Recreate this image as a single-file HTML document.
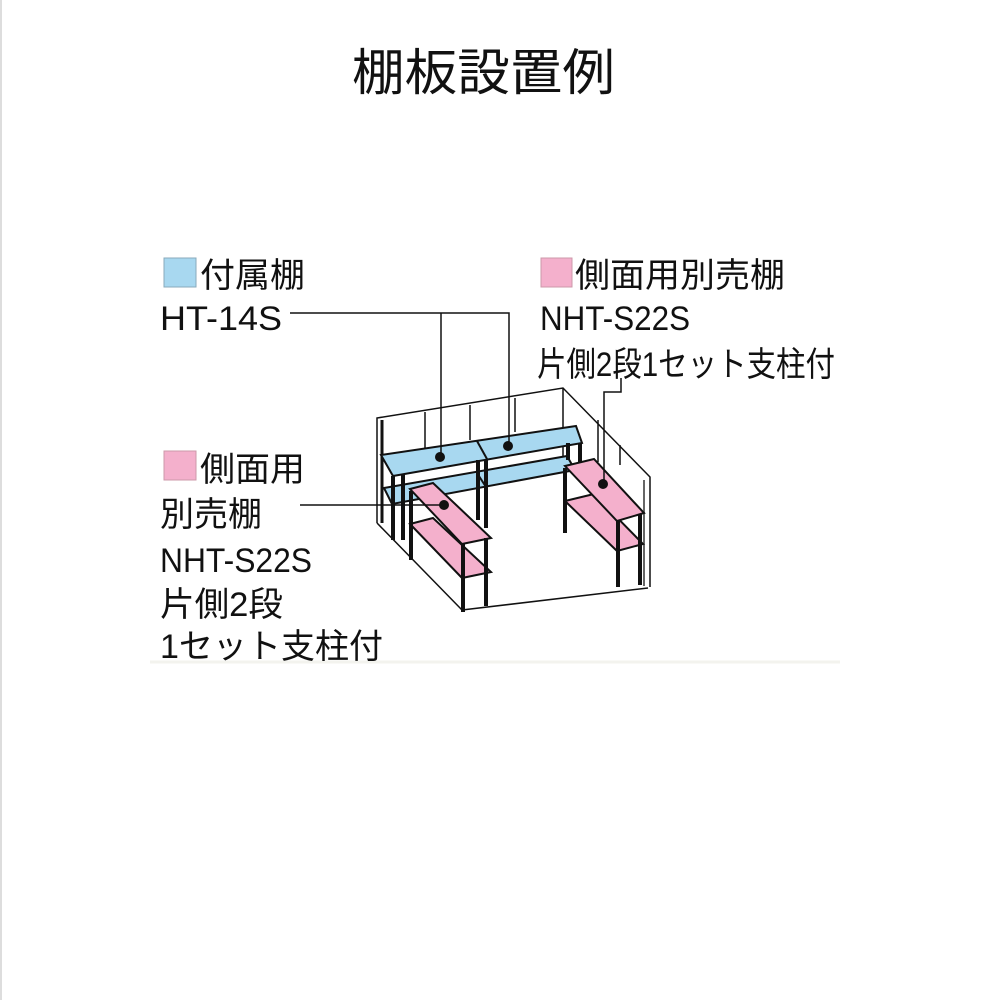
<!DOCTYPE html>
<html><head><meta charset="utf-8"><style>
html,body{margin:0;padding:0;background:#fff}
svg{display:block}
text{font-family:"Liberation Sans","Noto Sans CJK JP",sans-serif;fill:#111}
</style></head><body>
<svg width="1000" height="1000" viewBox="0 0 1000 1000" xmlns="http://www.w3.org/2000/svg">
<rect x="0" y="0" width="2" height="1000" fill="#ddd"/>
<text x="352" y="90" font-size="50" textLength="263" lengthAdjust="spacingAndGlyphs">棚板設置例</text>
<line x1="150" y1="662" x2="840" y2="662" stroke="#f3f3ee" stroke-width="3"/>

<rect x="164" y="258" width="32" height="29" fill="#a8d8f0" stroke="#8ab" stroke-width="1"/>
<text x="200" y="287" font-size="34" textLength="105" lengthAdjust="spacingAndGlyphs">付属棚</text>
<text x="160" y="330" font-size="34" textLength="122" lengthAdjust="spacingAndGlyphs">HT-14S</text>

<rect x="541" y="258" width="31" height="29" fill="#f4b0cc" stroke="#c9a" stroke-width="1"/>
<text x="575" y="287" font-size="34" textLength="210" lengthAdjust="spacingAndGlyphs">側面用別売棚</text>
<text x="540" y="330" font-size="34" textLength="150" lengthAdjust="spacingAndGlyphs">NHT-S22S</text>
<text x="537" y="376" font-size="34" textLength="298" lengthAdjust="spacingAndGlyphs">片側2段1セット支柱付</text>

<rect x="164" y="451" width="32" height="29" fill="#f4b0cc" stroke="#c9a" stroke-width="1"/>
<text x="200" y="481" font-size="34" textLength="105" lengthAdjust="spacingAndGlyphs">側面用</text>
<text x="160" y="526" font-size="34" textLength="102" lengthAdjust="spacingAndGlyphs">別売棚</text>
<text x="160" y="572" font-size="34" textLength="152" lengthAdjust="spacingAndGlyphs">NHT-S22S</text>
<text x="160" y="616" font-size="34" textLength="123" lengthAdjust="spacingAndGlyphs">片側2段</text>
<text x="160" y="658" font-size="34" textLength="223" lengthAdjust="spacingAndGlyphs">1セット支柱付</text>

<g stroke="#111" fill="none" stroke-width="1.5">
<polyline points="377,523 377,418 563,388 650,477 650,587"/>
<line x1="563" y1="388" x2="563" y2="470"/>
<line x1="377" y1="523" x2="462" y2="610"/>
<line x1="462" y1="610" x2="648" y2="588"/>
<line x1="382" y1="523" x2="382" y2="420" stroke-width="3"/>
<line x1="644" y1="480" x2="644" y2="586" stroke-width="2" stroke="#666"/>
<line x1="425" y1="412" x2="425" y2="450"/><line x1="470" y1="405" x2="470" y2="440"/>
<line x1="515" y1="398" x2="515" y2="432"/><line x1="598" y1="420" x2="598" y2="462"/>
<line x1="620" y1="445" x2="620" y2="465"/>
</g>

<g stroke="#111" stroke-width="2">
<polygon points="384,488 567,456 575,470 392,504" fill="#a8d8f0"/>
<polygon points="381,455 576,426 582,443 393,476" fill="#a8d8f0"/>
<line x1="477" y1="441" x2="487" y2="459"/>
<line x1="477" y1="473" x2="486" y2="487"/>
</g>
<g stroke="#111" stroke-width="4">
<line x1="393" y1="476" x2="393" y2="540"/><line x1="403" y1="474" x2="403" y2="540"/>
<line x1="486" y1="460" x2="486" y2="528"/><line x1="478" y1="460" x2="478" y2="520"/>
<line x1="580" y1="444" x2="580" y2="465"/><line x1="568" y1="443" x2="568" y2="460"/>
</g>

<g stroke="#111" stroke-width="2">
<polygon points="410,524 433,518 491,572 462,578" fill="#f4b0cc"/>
<polygon points="410,489 433,483 491,538 462,544" fill="#f4b0cc"/>
</g>
<g stroke="#111" stroke-width="4">
<line x1="411" y1="491" x2="411" y2="560"/>
<line x1="463" y1="543" x2="463" y2="612"/><line x1="486" y1="538" x2="486" y2="606"/>
</g>

<g stroke="#111" stroke-width="2">
<polygon points="565,501 594,494 643,544 617,551" fill="#f4b0cc"/>
<polygon points="565,466 594,459 644,513 617,521" fill="#f4b0cc"/>
</g>
<g stroke="#111" stroke-width="4">
<line x1="565" y1="468" x2="565" y2="533"/>
<line x1="618" y1="520" x2="618" y2="587"/><line x1="640" y1="514" x2="640" y2="585"/>
</g>

<g stroke="#111" stroke-width="1.5" fill="none">
<polyline points="290,313 509,313 509,446"/>
<line x1="441" y1="313" x2="441" y2="457"/>
<polyline points="621,378 621,392 604,392 604,483"/>
<line x1="300" y1="505" x2="443" y2="505"/>
</g>
<g fill="#111">
<circle cx="440" cy="457" r="5"/><circle cx="508" cy="446" r="5"/>
<circle cx="603" cy="484" r="5"/><circle cx="444" cy="505" r="5"/>
</g>
</svg>
</body></html>
